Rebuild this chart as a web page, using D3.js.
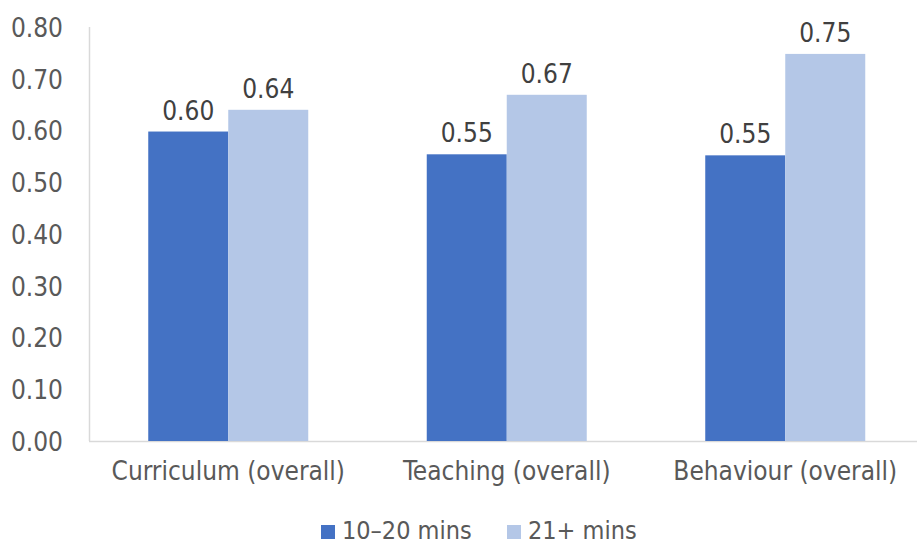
<!DOCTYPE html>
<html><head><meta charset="utf-8">
<script src="https://cdn.jsdelivr.net/npm/d3@7"></script>
<style>
html,body{margin:0;padding:0;background:#fff;}
svg text{font-family:"DejaVu Sans Condensed","DejaVu Sans",sans-serif;font-stretch:condensed;}
</style></head>
<body><svg id="chart" width="917" height="545"></svg>
<script>
const categories = ["Curriculum (overall)", "Teaching (overall)", "Behaviour (overall)"];
const seriesNames = ["10–20 mins", "21+ mins"];
const series1 = [0.598, 0.554, 0.552];
const series2 = [0.640, 0.669, 0.748];
const yTicks = [0, 0.1, 0.2, 0.3, 0.4, 0.5, 0.6, 0.7, 0.8];
const colors = ["#4472C4", "#B4C7E7"];

const svg = d3.select("#chart");
const x0 = d3.scaleBand().domain(categories).range([89, 924.5]).paddingInner(0.4255).paddingOuter(0.21275);
const x1 = d3.scaleBand().domain([0, 1]).range([0, x0.bandwidth()]);
const y = d3.scaleLinear().domain([0, 0.8]).range([441, 27]);

// axes lines
svg.append("line").attr("x1", 89.5).attr("x2", 89.5).attr("y1", y(0.8)).attr("y2", y(0))
  .attr("stroke", "#d9d9d9").attr("stroke-width", 1.5);
svg.append("line").attr("x1", 89).attr("x2", 917).attr("y1", y(0) + 0.5).attr("y2", y(0) + 0.5)
  .attr("stroke", "#d9d9d9").attr("stroke-width", 1.5);

// y tick labels
const yAxis = d3.axisLeft(y).tickValues(yTicks).tickFormat(d3.format(".2f")).tickSize(0).tickPadding(0);
const ya = svg.append("g").attr("transform", "translate(63,0)").call(yAxis);
ya.select(".domain").remove();
ya.selectAll("text").attr("font-size", 26).attr("fill", "#595959").attr("dy", "0.36em")
  .style("font-family", '"DejaVu Sans Condensed","DejaVu Sans",sans-serif');

// x labels
const xAxis = d3.axisBottom(x0).tickSize(0).tickPadding(0);
const xa = svg.append("g").attr("transform", "translate(0,462)").call(xAxis);
xa.select(".domain").remove();
xa.selectAll("text").attr("font-size", 26).attr("fill", "#595959").attr("dy", "0.71em")
  .style("font-family", '"DejaVu Sans Condensed","DejaVu Sans",sans-serif');

const data = categories.map((c, i) => ({ c, v: [series1[i], series2[i]] }));
const g = svg.append("g").selectAll("g").data(data).join("g")
  .attr("transform", d => `translate(${x0(d.c)},0)`);
g.selectAll("rect").data(d => d.v.map((v, k) => ({ v, k }))).join("rect")
  .attr("x", d => x1(d.k)).attr("width", x1.bandwidth())
  .attr("y", d => y(d.v)).attr("height", d => y(0) - y(d.v))
  .attr("fill", d => colors[d.k]);
g.selectAll("text").data(d => d.v.map((v, k) => ({ v, k }))).join("text")
  .attr("x", d => x1(d.k) + x1.bandwidth() / 2).attr("y", d => y(d.v) - 12)
  .attr("text-anchor", "middle").attr("font-size", 26).attr("fill", "#404040")
  .text(d => d.v.toFixed(2));

// legend
const leg = svg.append("g");
const legX = [321, 507];
seriesNames.forEach((n, i) => {
  leg.append("rect").attr("x", legX[i]).attr("y", 525).attr("width", 14).attr("height", 14).attr("fill", colors[i]);
  leg.append("text").attr("x", legX[i] + 21).attr("y", 539).attr("font-size", 25).attr("fill", "#595959").text(n);
});
</script></body></html>
